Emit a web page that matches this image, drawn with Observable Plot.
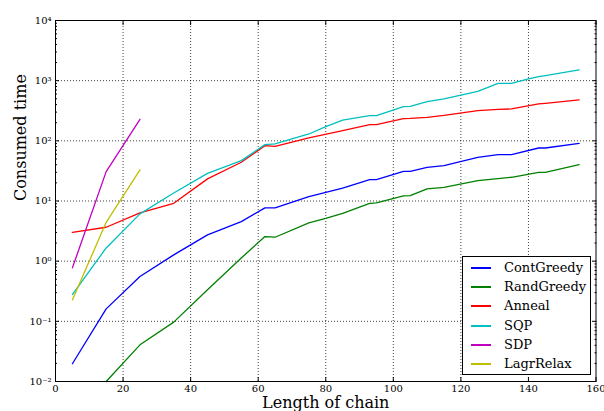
<!DOCTYPE html>
<html><head><meta charset="utf-8">
<script src="https://cdn.jsdelivr.net/npm/d3@7"></script>
<script src="https://cdn.jsdelivr.net/npm/@observablehq/plot@0.6"></script>
<style>
body{margin:0;background:#fff;}
#wrap{position:relative;width:604px;height:411px;font-family:"DejaVu Serif",serif;}
#legend{position:absolute;left:462px;top:256px;width:129px;height:119px;border:1px solid #000;background:#fff;box-sizing:border-box;}
.row{position:absolute;left:0;width:120px;height:19px;line-height:19px;font-size:13px;color:#000;white-space:nowrap;}
.sw{position:absolute;left:8px;top:9px;width:20px;height:2px;}
.lb{position:absolute;left:41px;top:0;}
</style></head><body><div id="wrap"></div>
<script>
const series = ["ContGreedy", "RandGreedy", "Anneal", "SQP", "SDP", "LagrRelax"];
const colors = ["#0000ff", "#008000", "#ff0000", "#00bfbf", "#bf00bf", "#bfbf00"];

const contGreedyX = [5,15,25,35,45,55,62,65,75,85,93,95,103,105,110,115,125,131,135,143,145,155];
const contGreedyY = [0.0197,0.161,0.555,1.27,2.73,4.55,7.7,7.7,11.8,16.3,22.7,22.7,31.1,31.1,36.3,38.7,53.2,59,59,76,76,90.9];
const randGreedyX = [15,25,35,45,55,62,65,75,80,85,93,95,103,105,110,115,125,131,135,143,145,155];
const randGreedyY = [0.01,0.0407,0.097,0.336,1.13,2.56,2.5,4.33,5.16,6.25,9.16,9.3,12.2,12.3,15.9,16.9,21.8,23.6,24.8,30,30,40.2];
const annealX = [5,15,25,35,45,55,62,65,75,85,93,95,103,105,110,115,125,131,135,143,145,155];
const annealY = [3.02,3.66,6.35,9.16,23.3,44,83,81,112,148,186,186,234,236,246,265,318,334,339,410,420,478];
const sqpX = [5,15,25,35,45,55,62,65,75,80,85,93,95,103,105,110,115,125,131,135,140,143,145,155];
const sqpY = [0.279,1.66,6.1,13.6,28.8,46.9,86.5,88.8,130,172,220,262,262,370,374,448,497,664,902,902,1067,1164,1211,1506];
const sdpX = [5,15,25];
const sdpY = [0.774,30.8,228];
const lagrRelaxX = [5,15,25];
const lagrRelaxY = [0.227,4.43,32.9];

const xTicks = [0,20,40,60,80,100,120,140,160];
const yMajor = [1e-2,1e-1,1e0,1e1,1e2,1e3,1e4];

const table = [];
[[contGreedyX,contGreedyY],[randGreedyX,randGreedyY],[annealX,annealY],[sqpX,sqpY],[sdpX,sdpY],[lagrRelaxX,lagrRelaxY]]
  .forEach(([xs,ys],s) => xs.forEach((x,i) => table.push({series: series[s], x, y: ys[i]})));

const yMinor = [];
for (let k = -2; k < 4; k++) for (let m = 2; m <= 9; m++) yMinor.push(m * Math.pow(10, k));
const sup = {"-":"\u207b","0":"\u2070","1":"\u00b9","2":"\u00b2","3":"\u00b3","4":"\u2074"};
const fmt = d => "10" + String(Math.round(Math.log10(d))).split("").map(c => sup[c]).join("");

const chart = Plot.plot({
  width: 604, height: 411,
  marginLeft: 55, marginRight: 8.5, marginTop: 20, marginBottom: 30,
  style: {fontFamily: "DejaVu Serif", fontSize: "10px", color: "#000", background: "#fff"},
  x: {domain: [0, 160]},
  y: {type: "log", domain: [1e-2, 1e4]},
  color: {domain: series, range: colors},
  marks: [
    Plot.gridX(xTicks.slice(1, -1), {stroke: "#000", strokeOpacity: 0.75, strokeDasharray: "1,2"}),
    Plot.gridY(yMajor.slice(1, -1), {stroke: "#000", strokeOpacity: 0.75, strokeDasharray: "1,2"}),
    Plot.lineY(table, {x: "x", y: "y", stroke: "series", strokeWidth: 1.3}),
    Plot.frame({stroke: "#000"}),
    Plot.axisX(xTicks, {anchor: "bottom", tickSize: 0, tickPadding: 3, label: null}),
    Plot.axisX(xTicks, {anchor: "bottom", tickSize: -4, text: null, label: null}),
    Plot.axisX(xTicks, {anchor: "top", tickSize: -4, text: null, label: null}),
    Plot.axisY(yMajor, {anchor: "left", tickSize: 0, tickPadding: 4, tickFormat: fmt, label: null}),
    Plot.axisY(yMajor, {anchor: "left", tickSize: -4, text: null, label: null}),
    Plot.axisY(yMinor, {anchor: "left", tickSize: -2, text: null, label: null}),
    Plot.axisY(yMajor, {anchor: "right", tickSize: -4, text: null, label: null}),
    Plot.axisY(yMinor, {anchor: "right", tickSize: -2, text: null, label: null}),
    Plot.text(["Length of chain"], {text: d => d, frameAnchor: "bottom", lineAnchor: "middle", dy: 21, fontSize: 16}),
    Plot.text(["Consumed time"], {text: d => d, frameAnchor: "left", rotate: -90, dx: -35, fontSize: 16})
  ]
});
const wrap = document.getElementById("wrap");
wrap.appendChild(chart);

const legend = document.createElement("div");
legend.id = "legend";
series.forEach((s, i) => {
  const row = document.createElement("div");
  row.className = "row";
  row.style.top = Math.round(1 + i * 19.2) + "px";
  const sw = document.createElement("div");
  sw.className = "sw";
  sw.style.background = colors[i];
  const lb = document.createElement("div");
  lb.className = "lb";
  lb.textContent = s;
  row.appendChild(sw); row.appendChild(lb);
  legend.appendChild(row);
});
wrap.appendChild(legend);
</script></body></html>
